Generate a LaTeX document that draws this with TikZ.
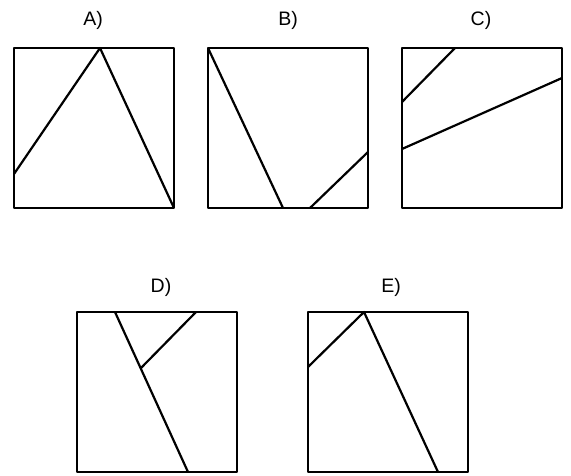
\documentclass[tikz,border=0pt]{standalone}
\usepackage{fontspec}
\setmainfont{Liberation Sans}
\begin{document}
\begin{tikzpicture}[x=1pt, y=-1pt, line join=round,
    box/.style={line width=2.8pt},
    cut/.style={line width=2.2pt},
    lbl/.style={font=\fontsize{19.5}{22}\selectfont, anchor=base, inner sep=0pt}]
    \useasboundingbox (0, 0) rectangle (571, 476);

    % Labels
    \node[lbl] (labA) at (93, 26) {A)};
    \node[lbl] (labB) at (288, 26) {B)};
    \node[lbl] (labC) at (481, 26) {C)};
    \node[lbl] (labD) at (161, 292) {D)};
    \node[lbl] (labE) at (391, 292) {E)};

    % Square A
    \begin{scope}[shift={(14, 48)}]
        \draw[cut] (0, 126) -- (86, 0) -- (160, 160);
        \draw[box] (0, 0) rectangle (160, 160);
    \end{scope}

    % Square B
    \begin{scope}[shift={(208, 48)}]
        \draw[cut] (0, 0) -- (75, 160);
        \draw[cut] (102, 160) -- (160, 104);
        \draw[box] (0, 0) rectangle (160, 160);
    \end{scope}

    % Square C
    \begin{scope}[shift={(402, 48)}]
        \draw[cut] (0, 54) -- (53, 0);
        \draw[cut] (0, 101) -- (160, 30);
        \draw[box] (0, 0) rectangle (160, 160);
    \end{scope}

    % Square D
    \begin{scope}[shift={(77, 312)}]
        \draw[cut] (38, 0) -- (111, 160);
        \draw[cut] (64, 56) -- (119, 0);
        \draw[box] (0, 0) rectangle (160, 160);
    \end{scope}

    % Square E
    \begin{scope}[shift={(308, 312)}]
        \draw[cut] (0, 55) -- (56, 0) -- (130, 160);
        \draw[box] (0, 0) rectangle (160, 160);
    \end{scope}
\end{tikzpicture}
\end{document}
